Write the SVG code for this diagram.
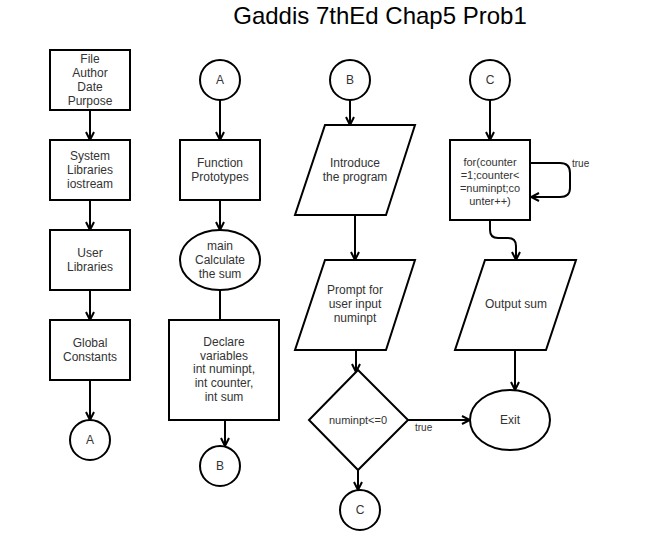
<svg xmlns="http://www.w3.org/2000/svg" width="650" height="550" viewBox="0 0 650 550">
<defs>
<marker id="arr" viewBox="0 0 10 10" refX="9" refY="5" markerWidth="10" markerHeight="10" markerUnits="userSpaceOnUse" orient="auto">
<path d="M1,1 L9,5 L1,9" fill="none" stroke="#000" stroke-width="2"/>
</marker>
<style>
.s{fill:#fff;stroke:#000;stroke-width:2}
.t{font-family:"Liberation Sans",Arial,sans-serif;font-size:12px;fill:#333;text-anchor:middle}
.l{font-family:"Liberation Sans",Arial,sans-serif;font-size:10px;fill:#333}
.c{fill:none;stroke:#000;stroke-width:2}
.a{fill:none;stroke:#000;stroke-width:2;marker-end:url(#arr)}
</style>
</defs>
<rect width="650" height="550" fill="#fff"/>
<text x="380" y="24" font-family="Liberation Sans, Arial, sans-serif" font-size="24" fill="#000" text-anchor="middle">Gaddis 7thEd Chap5 Prob1</text>

<g id="connectors">
<path class="a" d="M90,110 L90,140"/>
<path class="a" d="M90,200 L90,230"/>
<path class="a" d="M90,290 L90,320"/>
<path class="a" d="M90,380 L90,420"/>
<path class="a" d="M220,100 L220,140"/>
<path class="a" d="M220,200 L220,230"/>
<path class="c" d="M220,290 L220,320"/>
<path class="a" d="M225,420 L225,446"/>
<path class="a" d="M350,100 L350,125"/>
<path class="a" d="M355,215 L355,260"/>
<path class="a" d="M356,350 L356,372"/>
<path class="a" d="M358,470 L358,490"/>
<path class="a" d="M408,420 L470,420"/>
<path class="a" d="M490,100 L490,140"/>
<path class="a" d="M530,163 L560,163 Q570,163 570,173 L570,188 Q570,197 560,197 L531,197"/>
<path class="a" d="M490,220 L490,230 Q490,238 498,238 L508,238 Q516,238 516,246 L516,260"/>
<path class="a" d="M515,350 L515,390"/>
<text class="l" x="415" y="431">true</text>
<text class="l" x="572" y="167">true</text>
</g>

<g id="file">
<rect class="s" x="50" y="50" width="80" height="60"/>
<text class="t" x="90" y="63">File</text>
<text class="t" x="90" y="77">Author</text>
<text class="t" x="90" y="91">Date</text>
<text class="t" x="90" y="105">Purpose</text>
</g>
<g id="syslib">
<rect class="s" x="50" y="140" width="80" height="60"/>
<text class="t" x="90" y="160">System</text>
<text class="t" x="90" y="174">Libraries</text>
<text class="t" x="90" y="188">iostream</text>
</g>
<g id="userlib">
<rect class="s" x="50" y="230" width="80" height="60"/>
<text class="t" x="90" y="257">User</text>
<text class="t" x="90" y="271">Libraries</text>
</g>
<g id="globals">
<rect class="s" x="50" y="320" width="80" height="60"/>
<text class="t" x="90" y="347">Global</text>
<text class="t" x="90" y="361">Constants</text>
</g>
<g id="a1">
<circle class="s" cx="90" cy="440" r="20"/>
<text class="t" x="90" y="444">A</text>
</g>

<g id="a2">
<circle class="s" cx="220" cy="80" r="20"/>
<text class="t" x="220" y="84">A</text>
</g>
<g id="protos">
<rect class="s" x="180" y="140" width="80" height="60"/>
<text class="t" x="220" y="167">Function</text>
<text class="t" x="220" y="181">Prototypes</text>
</g>
<g id="main">
<ellipse class="s" cx="220" cy="260" rx="40" ry="30"/>
<text class="t" x="220" y="250">main</text>
<text class="t" x="220" y="264">Calculate</text>
<text class="t" x="220" y="278">the sum</text>
</g>
<g id="declare">
<rect class="s" x="169" y="320" width="110" height="100"/>
<text class="t" x="224" y="346">Declare</text>
<text class="t" x="224" y="360">variables</text>
<text class="t" x="224" y="373">int numinpt,</text>
<text class="t" x="224" y="387">int counter,</text>
<text class="t" x="224" y="401">int sum</text>
</g>
<g id="b1">
<circle class="s" cx="220" cy="466" r="20"/>
<text class="t" x="220" y="470">B</text>
</g>

<g id="b2">
<circle class="s" cx="350" cy="80" r="20"/>
<text class="t" x="350" y="84">B</text>
</g>
<g id="intro">
<polygon class="s" points="325,125 415,125 386,215 295,215"/>
<text class="t" x="355" y="167">Introduce</text>
<text class="t" x="355" y="181">the program</text>
</g>
<g id="prompt">
<polygon class="s" points="325,260 415,260 386,350 295,350"/>
<text class="t" x="355" y="294">Prompt for</text>
<text class="t" x="355" y="308">user input</text>
<text class="t" x="355" y="322">numinpt</text>
</g>
<g id="cond">
<polygon class="s" points="358,370 408,420 358,470 309,420"/>
<text class="t" x="358" y="424" style="font-size:11px">numinpt&lt;=0</text>
</g>
<g id="c1">
<circle class="s" cx="360" cy="510" r="20"/>
<text class="t" x="360" y="514">C</text>
</g>

<g id="c2">
<circle class="s" cx="490" cy="80" r="20"/>
<text class="t" x="490" y="84">C</text>
</g>
<g id="loop">
<rect class="s" x="450" y="140" width="80" height="80"/>
<text class="t" x="490" y="166" style="font-size:11px">for(counter</text>
<text class="t" x="490" y="179" style="font-size:11px">=1;counter&lt;</text>
<text class="t" x="490" y="192" style="font-size:11px">=numinpt;co</text>
<text class="t" x="490" y="205" style="font-size:11px">unter++)</text>
</g>
<g id="output">
<polygon class="s" points="485,260 576,260 546,350 455,350"/>
<text class="t" x="516" y="308">Output sum</text>
</g>
<g id="exit">
<rect class="s" x="470" y="390" width="80" height="60" rx="40" ry="30"/>
<text class="t" x="510" y="424">Exit</text>
</g>
</svg>
